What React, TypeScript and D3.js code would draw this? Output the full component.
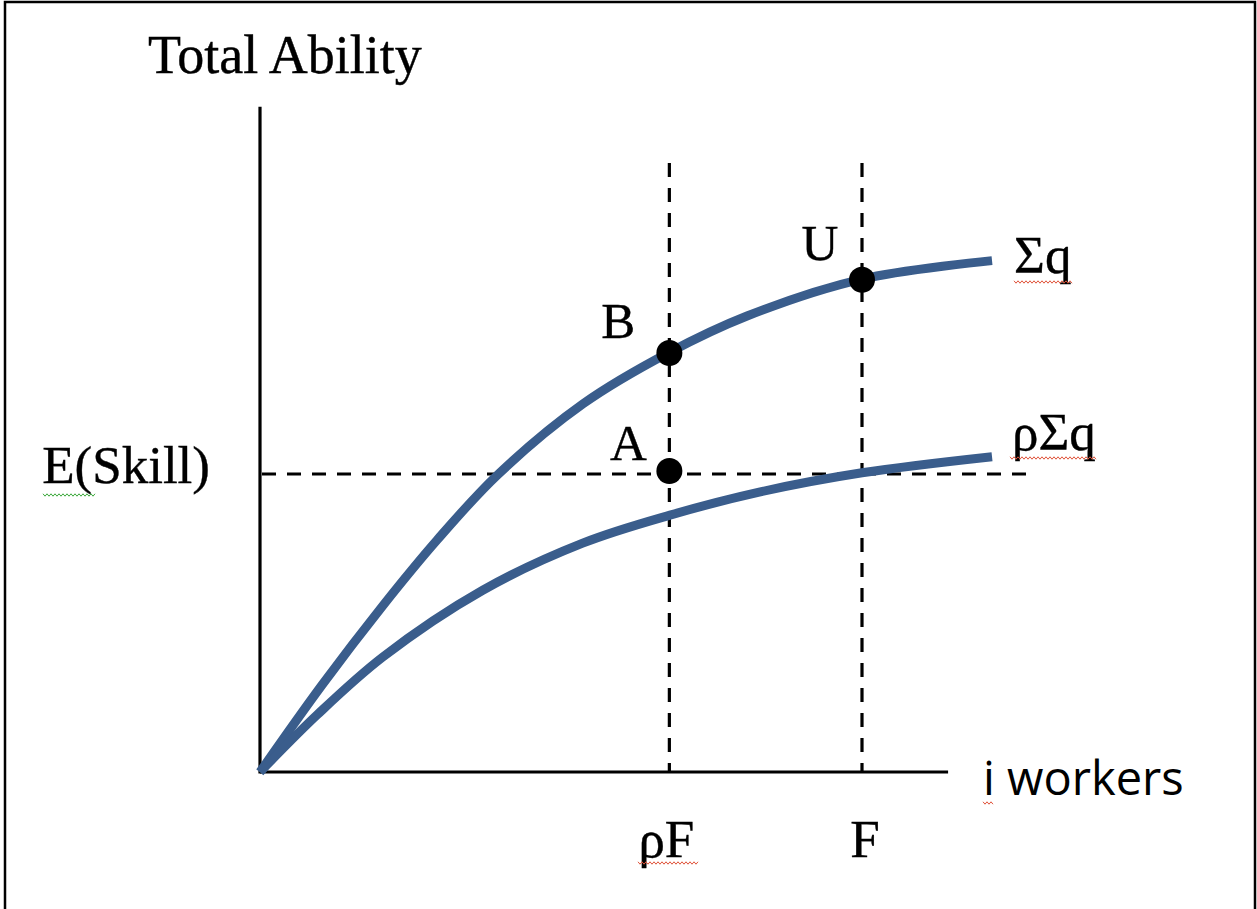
import React from "react";
import * as d3 from "d3";

// Data (x: workers, F = 100; y: total ability, E(Skill) = 50)
const sumQ: [number, number][] = [
  [0, 0], [10.3, 14.6], [20.4, 27.9], [29.4, 38.9], [39.4, 49.8],
  [53.7, 61.8], [67.8, 70.3], [80.9, 76.5], [100, 82.7], [121.6, 85.8],
];
const rhoSumQ: [number, number][] = [
  [0, 0], [9.5, 9.6], [20.4, 19.3], [37.0, 30.5], [53.6, 38.4],
  [68.1, 43.1], [83.1, 47.0], [100, 50.2], [121.6, 52.9],
];
const F = 100;
const rhoF = 68;
const eSkill = 50;
const pointLabels = [
  { name: "B", x: 68, y: 70.3, dx: -51, dy: -15 },
  { name: "A", x: 68, y: 50.5, dx: -41, dy: -11 },
  { name: "U", x: 100, y: 82.6, dx: -42, dy: -20 },
];
const xTicks = [
  { label: "ρF", v: rhoF },
  { label: "F", v: F },
];
const xAxisMax = 114.3;
const yAxisMax = 111.6;
const vDashTop = 102.2;
const hDashEnd = 128.6;

const W = 1257;
const H = 909;
const BLUE = "#3A5D8C";
const SERIF = "'Liberation Serif', 'Times New Roman', serif";

function squiggle(x0: number, x1: number, y: number) {
  const pts: [number, number][] = d3.range(x0, x1 + 0.01, 2).map((x, i) => [x, y + (i % 2 === 0 ? -1.2 : 1.2)]);
  return d3.line()(pts) || "";
}

export default function App() {
  const x = d3.scaleLinear().domain([0, 100]).range([260, 862]);
  const y = d3.scaleLinear().domain([0, 50]).range([772, 474]);
  const line = d3
    .line<[number, number]>()
    .x((d) => x(d[0]))
    .y((d) => y(d[1]))
    .curve(d3.curveCatmullRom.alpha(0.5));

  const endU = sumQ[sumQ.length - 1];
  const endL = rhoSumQ[rhoSumQ.length - 1];
  const textStyle = { stroke: "#000", strokeWidth: 0.4 };

  return (
    <svg
      width={W}
      height={H}
      style={{ position: "absolute", left: 0, top: 0, background: "#fff" }}
    >
      <rect x={0} y={0} width={W} height={H} fill="#fff" />
      {/* frame */}
      <path d={`M5,${H} V2 H1255 V${H}`} fill="none" stroke="#000" strokeWidth={2.5} />

      {/* dashed guides */}
      {[rhoF, F].map((v) => (
        <line
          key={v}
          x1={x(v)}
          x2={x(v)}
          y1={y(vDashTop)}
          y2={y(0)}
          stroke="#000"
          strokeWidth={3.2}
          strokeDasharray="14,11"
        />
      ))}
      <line
        x1={x(0) + 2}
        x2={x(hDashEnd)}
        y1={y(eSkill)}
        y2={y(eSkill)}
        stroke="#000"
        strokeWidth={3.2}
        strokeDasharray="14,11"
      />

      {/* axes */}
      <line x1={x(0)} x2={x(0)} y1={y(yAxisMax)} y2={y(0) + 1.5} stroke="#000" strokeWidth={3.2} />
      <line x1={x(0)} x2={x(xAxisMax)} y1={y(0)} y2={y(0)} stroke="#000" strokeWidth={3.2} />

      {/* curves */}
      <path d={line(sumQ) || ""} fill="none" stroke={BLUE} strokeWidth={9} />
      <path d={line(rhoSumQ) || ""} fill="none" stroke={BLUE} strokeWidth={9} />

      {/* points */}
      {pointLabels.map((p) => (
        <g key={p.name}>
          <circle cx={x(p.x)} cy={y(p.y)} r={13} fill="#000" />
          <text
            x={x(p.x) + p.dx}
            y={y(p.y) + p.dy}
            textAnchor="middle"
            fontFamily={SERIF}
            fontSize={51}
            fill="#000"
            style={textStyle}
          >
            {p.name}
          </text>
        </g>
      ))}

      {/* curve labels */}
      <text x={x(endU[0]) + 22} y={y(endU[1]) + 12} fontFamily={SERIF} fontSize={53} fill="#000" style={textStyle}>
        Σq
      </text>
      <text x={x(endL[0]) + 20} y={y(endL[1]) - 7} fontFamily={SERIF} fontSize={53} fill="#000" style={textStyle}>
        ρΣq
      </text>

      {/* axis titles */}
      <text x={148} y={73} fontFamily={SERIF} fontSize={54} fill="#000" style={textStyle}>
        Total Ability
      </text>
      <text x={210} y={y(eSkill) + 9} textAnchor="end" fontFamily={SERIF} fontSize={53} fill="#000" style={textStyle}>
        E(Skill)
      </text>
      <text x={983} y={795} fontFamily="'Open Sans', sans-serif" fontSize={47} fill="#000">
        i workers
      </text>

      {/* x tick labels */}
      {xTicks.map((t) => (
        <text
          key={t.label}
          x={x(t.v) + (t.label === "F" ? 3 : -3)}
          y={857}
          textAnchor="middle"
          fontFamily={SERIF}
          fontSize={53}
          fill="#000"
          style={textStyle}
        >
          {t.label}
        </text>
      ))}

      {/* spell-check squiggles */}
      <path d={squiggle(1014, 1073, 282)} fill="none" stroke="#e0533a" strokeWidth={1} />
      <path d={squiggle(1010, 1097, 458)} fill="none" stroke="#e0533a" strokeWidth={1} />
      <path d={squiggle(638, 698, 863)} fill="none" stroke="#e0533a" strokeWidth={1} />
      <path d={squiggle(983, 993, 803)} fill="none" stroke="#e0533a" strokeWidth={1} />
      <path d={squiggle(43, 95, 495)} fill="none" stroke="#3aa83a" strokeWidth={1} />
    </svg>
  );
}
